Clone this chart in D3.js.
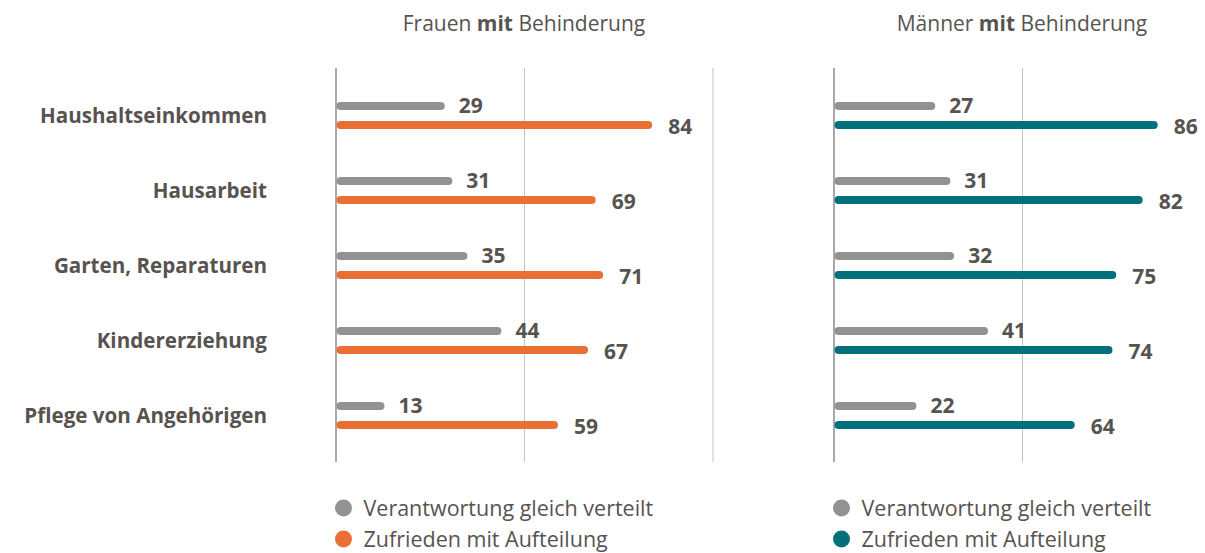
<!DOCTYPE html>
<html>
<head>
<meta charset="utf-8">
<script src="https://cdn.jsdelivr.net/npm/d3@7"></script>
<style>
  body { margin: 0; background: #fff; }
  svg text { font-family: "Open Sans", sans-serif; fill: #575350; }
</style>
</head>
<body>
<svg id="chart" width="1205" height="553"></svg>
<script>
var categories = ["Haushaltseinkommen", "Hausarbeit", "Garten, Reparaturen", "Kindererziehung", "Pflege von Angehörigen"];
var frauenGleich = [29, 31, 35, 44, 13];
var frauenZufrieden = [84, 69, 71, 67, 59];
var maennerGleich = [27, 31, 32, 41, 22];
var maennerZufrieden = [86, 82, 75, 74, 64];
var legendLabels = ["Verantwortung gleich verteilt", "Zufrieden mit Aufteilung"];

var grey = "#929292";
var svg = d3.select("#chart");

var y = d3.scalePoint().domain(categories).range([116, 416]);

// category labels
svg.selectAll("text.cat")
   .data(categories)
   .enter()
   .append("text")
   .attr("class", "cat")
   .attr("x", 267)
   .attr("y", function(d) { return y(d); })
   .attr("dy", ".35em")
   .attr("text-anchor", "end")
   .style("font-size", "20.6px")
   .style("font-weight", "bold")
   .text(function(d) { return d; });

function make_panel(x0, title, gleich, zufrieden, color) {
    var x = d3.scaleLinear().domain([0, 100]).range([x0, x0 + 377]);
    var g = svg.append("g");

    // grid lines
    g.selectAll("line.grid")
     .data([50, 100])
     .enter()
     .append("line")
     .attr("x1", function(d) { return x(d) + 0.5; })
     .attr("x2", function(d) { return x(d) + 0.5; })
     .attr("y1", 68).attr("y2", 462)
     .attr("stroke", "#c4c4c4")
     .attr("stroke-width", 1);

    // axis line
    g.append("line")
     .attr("x1", x(0) + 0.5).attr("x2", x(0) + 0.5)
     .attr("y1", 68).attr("y2", 462)
     .attr("stroke", "#6e6e6e")
     .attr("stroke-width", 1.2);

    var t = g.append("text")
     .attr("x", x(50))
     .attr("y", 24)
     .attr("dy", ".35em")
     .attr("text-anchor", "middle")
     .style("font-size", "21px");
    var parts = title.split(" ");
    t.append("tspan").text(parts[0] + " ");
    t.append("tspan").style("font-weight", "bold").text(parts[1]);
    t.append("tspan").text(" " + parts[2]);

    var series = [
        { vals: gleich, color: grey, dy: -10, off: 14 },
        { vals: zufrieden, color: color, dy: 9, off: 16 }
    ];

    series.forEach(function(s) {
        g.selectAll(null)
         .data(s.vals)
         .enter()
         .append("rect")
         .attr("x", x(0) + 1)
         .attr("y", function(d, i) { return y(categories[i]) + s.dy - 4; })
         .attr("width", function(d) { return x(d) - x(0) - 1; })
         .attr("height", 8)
         .attr("rx", 4)
         .attr("fill", s.color);

        g.selectAll(null)
         .data(s.vals)
         .enter()
         .append("text")
         .attr("x", function(d) { return x(d) + s.off; })
         .attr("y", function(d, i) { return y(categories[i]) + s.dy + (s.dy > 0 ? 2 : 0); })
         .attr("dy", ".35em")
         .style("font-size", "21px")
         .style("font-weight", "bold")
         .text(function(d) { return d; });
    });

    // legend
    var lg = g.selectAll("g.leg")
     .data(legendLabels)
     .enter()
     .append("g")
     .attr("transform", function(d, i) { return "translate(" + (x0 + 8) + "," + (508 + i * 31) + ")"; });
    lg.append("circle")
      .attr("r", 8.5)
      .attr("fill", function(d, i) { return i == 0 ? grey : color; });
    lg.append("text")
      .attr("x", 20)
      .attr("dy", ".35em")
      .style("font-size", "21.5px")
      .text(function(d) { return d; });
}

make_panel(335.5, "Frauen mit Behinderung", frauenGleich, frauenZufrieden, "#e96f35");
make_panel(833.5, "Männer mit Behinderung", maennerGleich, maennerZufrieden, "#00717a");
</script>
</body>
</html>
